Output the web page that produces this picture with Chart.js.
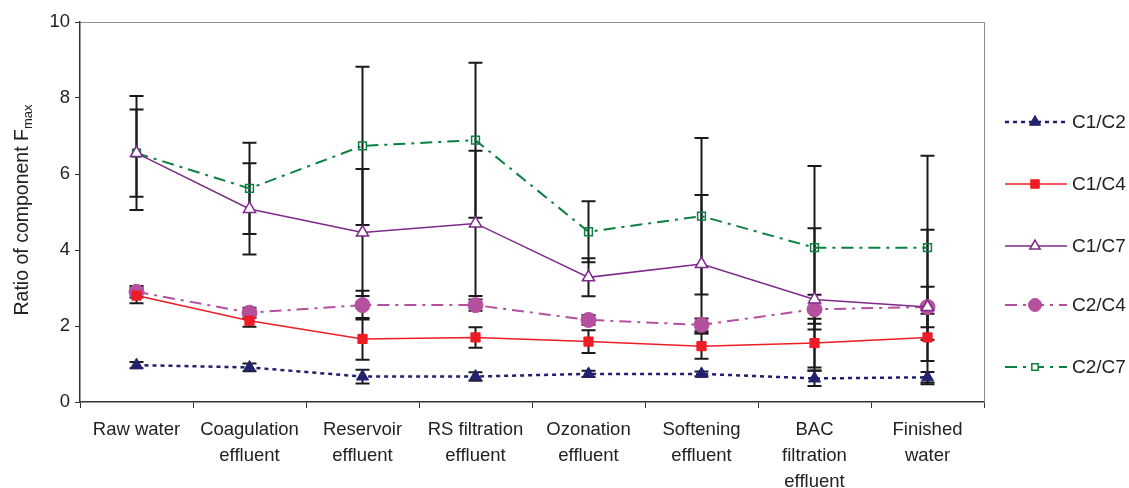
<!DOCTYPE html>
<html>
<head>
<meta charset="utf-8">
<script src="https://cdn.jsdelivr.net/npm/chart.js@4"></script>
<style>
  html, body { margin: 0; padding: 0; background: #fff; }
  #chart { display: block; }
</style>
</head>
<body>
<canvas id="chart" width="1129" height="488"></canvas>
<script>
// Treatment stages along the x axis
const stages = [
    'Raw water',
    ['Coagulation', 'effluent'],
    ['Reservoir', 'effluent'],
    ['RS filtration', 'effluent'],
    ['Ozonation', 'effluent'],
    ['Softening', 'effluent'],
    ['BAC', 'filtration', 'effluent'],
    ['Finished', 'water'],
];

// Fmax ratios (mean) and standard deviations
const c1c2 = [0.97, 0.91, 0.67, 0.67, 0.74, 0.74, 0.62, 0.65];
const c1c2Sd = [0.08, 0.10, 0.18, 0.11, 0.08, 0.06, 0.20, 0.14];
const c1c4 = [2.80, 2.14, 1.66, 1.70, 1.59, 1.47, 1.55, 1.70];
const c1c4Sd = [0.20, 0.16, 0.55, 0.27, 0.30, 0.33, 0.64, 0.62];
const c1c7 = [6.55, 5.08, 4.46, 4.70, 3.28, 3.63, 2.70, 2.50];
const c1c7Sd = [1.15, 1.20, 1.67, 1.91, 0.50, 1.82, 1.87, 2.03];
const c2c4 = [2.90, 2.35, 2.55, 2.55, 2.16, 2.03, 2.44, 2.50];
const c2c4Sd = [0.15, 0.13, 0.38, 0.15, 0.13, 0.17, 0.38, 0.53];
const c2c7 = [6.55, 5.62, 6.74, 6.89, 4.48, 4.89, 4.06, 4.06];
const c2c7Sd = [1.50, 1.20, 2.08, 2.04, 0.80, 2.06, 2.15, 2.42];

const yTicks = [0, 2, 4, 6, 8, 10];

const FONT = "'Liberation Sans', Arial, sans-serif";
const INK = '#222';

// Vertical error bars with caps, drawn under the lines
const errorBars = {
    id: 'errorBars',
    beforeDatasetsDraw(chart) {
        const { ctx, scales: { x, y } } = chart;
        ctx.save();
        ctx.strokeStyle = '#1a1a1a';
        ctx.lineWidth = 2;
        chart.data.datasets.forEach((ds) => {
            ds.data.forEach((v, i) => {
                const sd = ds.sd[i];
                const px = x.getPixelForValue(i);
                const top = y.getPixelForValue(v + sd);
                const bot = y.getPixelForValue(v - sd);
                ctx.beginPath();
                ctx.moveTo(px, top);
                ctx.lineTo(px, bot);
                ctx.moveTo(px - 7, top);
                ctx.lineTo(px + 7, top);
                ctx.moveTo(px - 7, bot);
                ctx.lineTo(px + 7, bot);
                ctx.stroke();
            });
        });
        ctx.restore();
    },
};

// Plot frame, y axis title and the legend on the right
const decorations = {
    id: 'decorations',
    afterDraw(chart) {
        const { ctx, chartArea: a } = chart;
        ctx.save();

        // grey frame on top and right
        ctx.strokeStyle = '#8c8c8c';
        ctx.lineWidth = 1;
        ctx.beginPath();
        ctx.moveTo(a.left, a.top + 0.5);
        ctx.lineTo(a.right + 0.5, a.top + 0.5);
        ctx.lineTo(a.right + 0.5, a.bottom);
        ctx.stroke();

        // y title with subscript
        const main = 'Ratio of component F';
        const sub = 'max';
        ctx.fillStyle = INK;
        ctx.font = '19.5px ' + FONT;
        const w1 = ctx.measureText(main).width;
        ctx.font = '13px ' + FONT;
        const w2 = ctx.measureText(sub).width;
        ctx.translate(28, 210);
        ctx.rotate(-Math.PI / 2);
        ctx.textBaseline = 'alphabetic';
        ctx.font = '19.5px ' + FONT;
        ctx.fillText(main, -(w1 + w2) / 2, 0);
        ctx.font = '13px ' + FONT;
        ctx.fillText(sub, -(w1 + w2) / 2 + w1, 4);
        ctx.setTransform(1, 0, 0, 1, 0, 0);

        // legend
        const rows = [122, 184, 246, 305, 367];
        chart.data.datasets.forEach((ds, k) => {
            const yy = rows[k];
            ctx.strokeStyle = ds.borderColor;
            ctx.lineWidth = ds.borderWidth;
            ctx.setLineDash(ds.borderDash || []);
            ctx.beginPath();
            ctx.moveTo(1005, yy);
            ctx.lineTo(1067, yy);
            ctx.stroke();
            ctx.setLineDash([]);
            if (ds.backgroundColor === '#fff') {
                ctx.fillStyle = '#fff';
            } else {
                ctx.fillStyle = ds.pointBackgroundColor;
            }
            ctx.strokeStyle = ds.pointBorderColor;
            ctx.lineWidth = ds.pointBorderWidth;
            Chart.helpers.drawPoint(ctx, {
                pointStyle: ds.pointStyle,
                radius: ds.legendRadius,
                borderWidth: ds.pointBorderWidth,
                rotation: 0,
            }, 1035, yy);
            ctx.fillStyle = INK;
            ctx.font = '19px ' + FONT;
            ctx.textBaseline = 'middle';
            ctx.fillText(ds.label, 1072, yy + 1);
        });
        ctx.restore();
    },
};

function series(label, data, sd, style) {
    return Object.assign({
        label,
        data,
        sd,
        tension: 0,
        fill: false,
    }, style);
}

const datasets = [
    series('C1/C2', c1c2, c1c2Sd, {
        borderColor: '#1f1f6e', borderWidth: 2.5, borderDash: [4, 4],
        pointStyle: 'triangle', pointRadius: 7, legendRadius: 6.5,
        pointBackgroundColor: '#22226e', pointBorderColor: '#22226e', pointBorderWidth: 1,
    }),
    series('C1/C4', c1c4, c1c4Sd, {
        borderColor: '#ee1c25', borderWidth: 1.5,
        pointStyle: 'rect', pointRadius: 6.5, legendRadius: 6,
        pointBackgroundColor: '#ee1c25', pointBorderColor: '#ee1c25', pointBorderWidth: 1,
    }),
    series('C1/C7', c1c7, c1c7Sd, {
        borderColor: '#7e2a8a', borderWidth: 1.5,
        pointStyle: 'triangle', pointRadius: 7, legendRadius: 6,
        pointBackgroundColor: '#fff', backgroundColor: '#fff',
        pointBorderColor: '#7e2a8a', pointBorderWidth: 1.5,
    }),
    series('C2/C4', c2c4, c2c4Sd, {
        borderColor: '#b5509f', borderWidth: 2, borderDash: [12, 6, 3, 6],
        pointStyle: 'circle', pointRadius: 7.5, legendRadius: 6.5,
        pointBackgroundColor: '#b5509f', pointBorderColor: '#b5509f', pointBorderWidth: 1,
    }),
    series('C2/C7', c2c7, c2c7Sd, {
        borderColor: '#0b8040', borderWidth: 2, borderDash: [12, 6, 3, 6],
        pointStyle: 'rect', pointRadius: 5.5, legendRadius: 4.5,
        pointBackgroundColor: 'rgba(255,255,255,0)', backgroundColor: '#fff',
        pointBorderColor: '#0b8040', pointBorderWidth: 1.5,
    }),
];

new Chart(document.getElementById('chart'), {
    type: 'line',
    data: { labels: stages, datasets },
    options: {
        responsive: false,
        animation: false,
        devicePixelRatio: 1,
        layout: { padding: { left: 0, top: 22, right: 145, bottom: 0 } },
        plugins: {
            legend: { display: false },
            tooltip: { enabled: false },
        },
        scales: {
            x: {
                offset: true,
                grid: {
                    offset: true,
                    drawOnChartArea: false,
                    drawTicks: true,
                    tickLength: 6,
                    color: '#333',
                },
                border: { color: '#333', width: 1.5 },
                ticks: {
                    color: INK,
                    padding: 9,
                    maxRotation: 0,
                    autoSkip: false,
                    font: { family: FONT, size: 18.5, lineHeight: 1.4 },
                },
                afterFit(s) { s.height = 86; },
            },
            y: {
                min: 0,
                max: 10,
                afterBuildTicks(s) { s.ticks = yTicks.map((v) => ({ value: v })); },
                grid: {
                    drawOnChartArea: false,
                    drawTicks: true,
                    tickLength: 5,
                    color: '#333',
                },
                border: { color: '#333', width: 1.5 },
                ticks: {
                    color: INK,
                    padding: 5,
                    font: { family: FONT, size: 18.5 },
                },
                afterFit(s) { s.width = 80; },
            },
        },
    },
    plugins: [errorBars, decorations],
});
</script>
</body>
</html>
